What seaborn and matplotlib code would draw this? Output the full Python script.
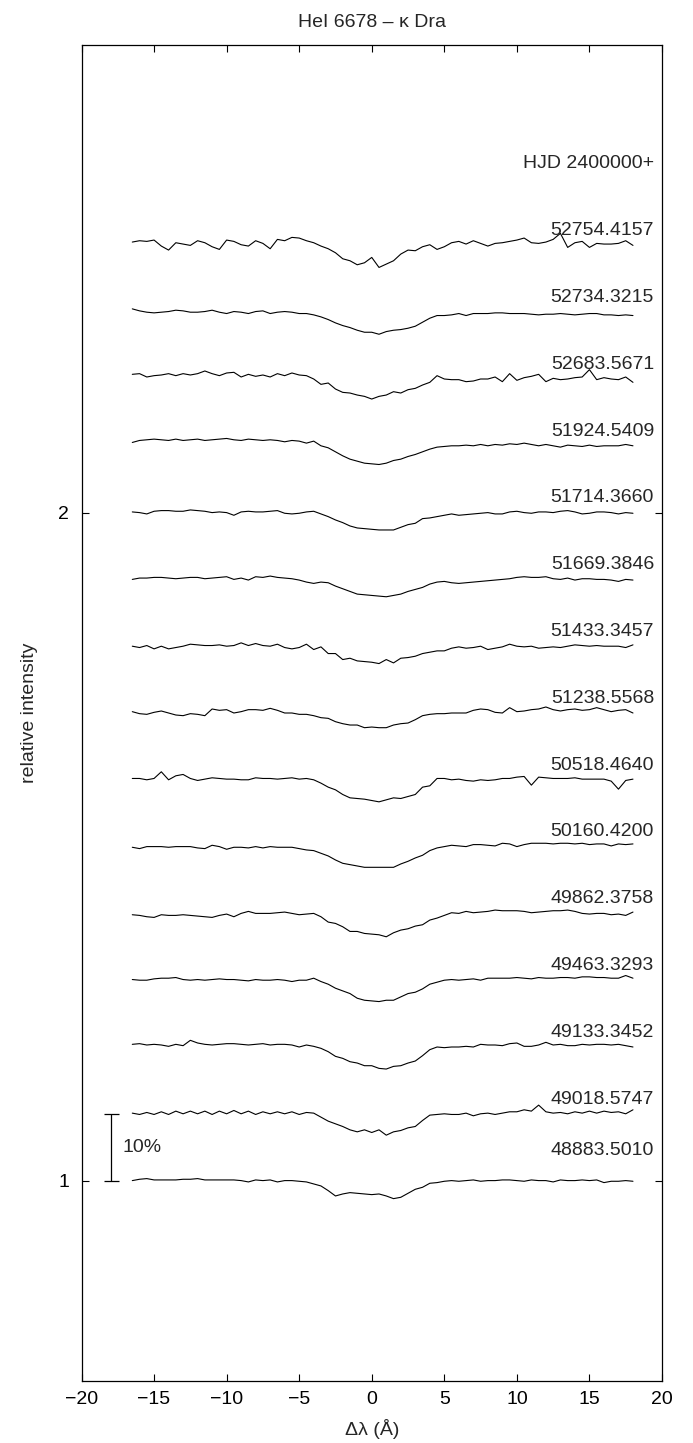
import numpy as np
import pandas as pd
import matplotlib
matplotlib.use("Agg")
import matplotlib.pyplot as plt
import seaborn as sns

# Wavelength offset from the HeI 6678 line centre, in Angstrom
wavelength = np.arange(-16.5, 18.01, 0.5)

# Observation epochs (HJD - 2400000), bottom to top, and their vertical offsets
hjd_labels = ["48883.5010", "49018.5747", "49133.3452", "49463.3293", "49862.3758",
              "50160.4200", "50518.4640", "51238.5568", "51433.3457", "51669.3846",
              "51714.3660", "51924.5409", "52683.5671", "52734.3215", "52754.4157"]
offsets = [1.0, 1.1, 1.2, 1.3, 1.4, 1.5, 1.6, 1.7, 1.8, 1.9, 2.0, 2.1, 2.2, 2.3, 2.4]

# Normalised flux minus one, in units of 0.001 of the continuum
flux_48883 = [0, 2, 3, 1, 1, 1, 1, 2, 2, 3, 1, 1, 1, 1, 1, 0, -2, 1, 0, 1,
              -2, 0, 0, -1, -2, -5, -8, -15, -23, -20, -18, -19, -20, -21, -20, -23, -27, -25, -19, -13,
              -10, -4, -3, -1, 0, -1, 0, 1, -1, 0, 0, 1, 1, 0, -1, 1, 0, 0, -2, 1,
              0, 0, 1, 0, 1, -3, -1, -1, 0, -1]
flux_49018 = [1, -1, 2, -1, 3, -1, 4, 0, 4, 0, 4, -1, 4, 0, 5, 0, 4, -1, 3, 0,
              3, 0, 3, -1, 2, 1, -5, -11, -15, -19, -24, -27, -24, -28, -24, -32, -27, -25, -21, -19,
              -10, -2, -1, 0, -1, -1, 1, -3, 0, 1, -1, 1, 3, 3, 6, 4, 13, 3, 1, 2,
              0, 3, 1, 4, 1, 4, 2, 3, 0, 6]
flux_49133 = [4, 5, 3, 4, 3, 1, 4, 2, 10, 6, 4, 3, 4, 5, 5, 4, 3, 4, 5, 3,
              4, 4, 3, 0, 3, 1, -2, -7, -14, -17, -22, -24, -28, -28, -32, -33, -29, -28, -24, -21,
              -13, -4, 0, -1, 0, 0, 1, 0, 4, 3, 3, 2, 5, 6, 1, 1, 3, 7, 3, 4,
              2, 2, 4, 3, 4, 4, 3, 4, 2, 0]
flux_49463 = [1, 0, 0, 2, 3, 3, 4, 1, 0, 1, 0, 1, 2, 1, 1, 0, -1, 1, 0, 0,
              1, 0, -2, 0, 0, 3, -2, -6, -12, -16, -20, -27, -30, -31, -32, -30, -30, -25, -20, -18,
              -13, -6, -3, 0, 1, 0, 1, 2, 0, 3, 3, 3, 3, 4, 3, 2, 4, 3, 3, 4,
              4, 3, 5, 5, 4, 4, 3, 3, 7, 3]
flux_49862 = [-2, -3, -5, -6, -2, -3, -3, -2, -3, -4, -5, -6, -3, -1, -5, 0, 3, 0, 0, 0,
              1, 2, 0, -2, -1, 0, -5, -13, -15, -20, -27, -27, -30, -31, -32, -35, -29, -25, -23, -19,
              -17, -10, -7, -3, 1, 0, 3, 1, 2, 3, 5, 4, 4, 4, 3, 1, 2, 3, 4, 4,
              5, 3, 0, -1, 0, 0, -2, -1, -3, 2]
flux_50160 = [-1, -3, 0, 0, 0, -1, 0, 0, 0, -2, -3, 2, 0, -4, -1, -1, -2, 0, -2, 0,
              -1, -1, -1, -3, -5, -6, -10, -14, -20, -25, -27, -29, -31, -31, -31, -31, -31, -26, -22, -17,
              -13, -6, -2, 0, 2, 1, 0, 3, 3, 2, 1, 5, 4, 0, 3, 5, 5, 5, 4, 5,
              5, 4, 5, 3, 4, 4, 1, 4, 3, 4]
flux_50518 = [2, 2, 0, 2, 12, 0, 6, 8, 2, -1, 1, 3, 2, 1, 1, 0, 0, 3, 2, 2,
              1, 2, 3, 1, 2, 0, -5, -11, -15, -22, -27, -28, -29, -31, -33, -30, -27, -28, -25, -22,
              -11, -9, 2, 2, 0, 1, -1, -2, 0, -1, 0, 2, 2, 4, 5, -8, 4, 3, 2, 2,
              2, 3, 1, 1, 1, 1, -2, -14, -1, 1]
flux_51238 = [2, -1, -2, 1, 3, 0, -3, -4, -1, -2, -4, 6, 4, 5, 0, 2, 5, 5, 4, 7,
              4, 0, 0, -2, -2, -4, -7, -8, -13, -16, -18, -18, -22, -21, -22, -22, -18, -16, -15, -10,
              -4, -2, -1, -1, 0, 0, 0, 4, 6, 5, 1, 0, 8, 2, 3, 5, 6, 9, 5, 3,
              5, 6, 4, 5, 8, 5, 2, 4, 5, 0]
flux_51433 = [0, -2, 1, -4, 0, -4, -2, 0, 3, 2, 1, 1, 2, 0, 1, 5, 1, 4, 1, 0,
              3, -2, -4, -2, 3, -5, -1, -11, -11, -20, -18, -22, -23, -24, -26, -20, -25, -18, -17, -15,
              -11, -9, -7, -7, -3, -1, -3, -2, 0, -5, -3, -1, 3, 0, -1, 0, -3, -2, -1, -2,
              0, 2, 1, 0, 1, 0, 0, 0, -2, 2]
flux_51669 = [0, 2, 2, 3, 3, 2, 1, 2, 3, 3, 1, 2, 3, 4, 0, 2, -1, 4, 3, 5,
              3, 2, 1, -1, -4, -6, -4, -5, -10, -14, -18, -22, -23, -24, -25, -26, -24, -22, -18, -15,
              -12, -7, -4, -3, -5, -6, -5, -4, -3, -2, -1, 0, 1, 3, 4, 3, 3, 4, 1, 0,
              2, -1, 1, 1, 0, 0, -1, -3, 0, -1]
flux_51714 = [1, 0, -2, 2, 3, 3, 2, 2, 4, 3, 2, 0, 1, 0, -4, 1, 2, 1, 1, 2,
              3, -1, -2, -1, 1, 2, -2, -6, -11, -15, -20, -23, -24, -25, -26, -26, -26, -22, -18, -16,
              -9, -8, -6, -4, -2, -4, -3, -2, -1, 0, -2, -2, 1, 2, 0, -1, 1, 1, 0, 2,
              3, 1, -2, -1, 1, 1, 0, -2, 0, -1]
flux_51924 = [5, 8, 9, 10, 9, 8, 10, 8, 9, 10, 8, 9, 10, 11, 9, 8, 10, 9, 8, 9,
              8, 6, 8, 7, 4, 7, 0, -3, -9, -15, -20, -23, -26, -27, -28, -26, -22, -20, -16, -13,
              -9, -5, -2, -1, 0, 0, 1, 0, 2, 0, 2, 1, 3, 2, 4, 2, 0, 2, 0, -2,
              1, 0, -1, 1, -1, 0, 0, 0, 2, 0]
flux_52683 = [7, 8, 3, 5, 6, 8, 5, 8, 6, 8, 12, 8, 5, 9, 10, 3, 7, 4, 6, 3,
              8, 5, 9, 6, 5, 0, -8, -6, -15, -20, -21, -24, -26, -30, -26, -24, -19, -21, -16, -14,
              -9, -5, 5, 0, -1, -1, -4, -3, 0, 0, 3, -4, 8, -2, 2, 4, 7, -4, 1, -1,
              0, 2, 3, 14, -1, 2, 0, -1, 3, -5]
flux_52734 = [5, 2, 0, -1, 0, 1, 3, 2, 0, 0, 1, 3, 0, -2, 1, 0, -2, 1, 2, -2,
              0, 1, 0, -2, -2, -4, -7, -11, -16, -20, -23, -27, -30, -30, -33, -29, -27, -26, -24, -21,
              -15, -9, -5, -5, -4, -2, -5, -2, -2, -2, -1, -1, -2, -2, -2, -3, -4, -3, -3, -2,
              -3, -4, -3, -2, -2, -4, -4, -5, -4, -5]
flux_52754 = [5, 7, 6, 8, -1, -7, 4, 2, 0, 7, 4, -2, -6, 8, 6, 1, -1, 7, 3, -5,
              9, 7, 12, 11, 7, 4, -1, -5, -11, -20, -23, -29, -26, -18, -33, -28, -23, -13, -7, -8,
              -2, 1, -6, -2, 4, 6, 2, 7, 3, -1, 3, 4, 6, 8, 11, 4, 3, 5, 9, 18,
              -3, 4, 6, -3, 3, 2, 2, 3, 7, 0]

spectra = [flux_48883, flux_49018, flux_49133, flux_49463, flux_49862,
           flux_50160, flux_50518, flux_51238, flux_51433, flux_51669,
           flux_51714, flux_51924, flux_52683, flux_52734, flux_52754]

# Long-form table: one row per sample, each spectrum shifted by its offset
frames = []
for hjd, off, dev in zip(hjd_labels, offsets, spectra):
    frames.append(pd.DataFrame({
        "dlambda": wavelength,
        "intensity": off + np.asarray(dev, dtype=float) / 1000.0,
        "hjd": hjd,
    }))
df = pd.concat(frames, ignore_index=True)

sns.set_style("ticks")
plt.rcParams["font.family"] = ["Liberation Sans", "DejaVu Sans"]
plt.rcParams["axes.linewidth"] = 0.9

W, H = 693, 1443
fig = plt.figure(figsize=(W / 100, H / 100), dpi=100)
left, right, top, bottom = 81.5, 662.0, 45.0, 1381.0
ax = fig.add_axes([left / W, 1 - bottom / H, (right - left) / W, (bottom - top) / H])

sns.lineplot(data=df, x="dlambda", y="intensity", units="hjd", estimator=None,
             sort=False, color="black", linewidth=0.8, legend=False, ax=ax)

ax.set_xlim(-20, 20)
ax.set_ylim(0.7, 2.7)
ax.set_xticks(np.arange(-20, 21, 5))
ax.set_yticks([1, 2])
ax.tick_params(direction="in", top=True, right=True, length=5, width=0.8,
               labelsize=14, colors="black")
ax.tick_params(axis="x", pad=7)
ax.tick_params(axis="y", pad=9)
for s in ax.spines.values():
    s.set_color("black")

ax.set_title("HeI 6678 \u2013 \u03ba Dra", fontsize=14, pad=13)
ax.set_xlabel("\u0394\u03bb (\u00c5)", fontsize=14, labelpad=8)
ax.set_ylabel("relative intensity", fontsize=14, ha="center", va="center",
              rotation_mode="default")
ax.yaxis.set_label_coords(-0.089, 0.5)

# Epoch labels at the right end of each spectrum
label_lift = [0.045] + [0.022] * (len(offsets) - 1)
for hjd, off, lift in zip(hjd_labels, offsets, label_lift):
    ax.text(19.45, off + lift, hjd, ha="right", va="center", fontsize=14)
ax.text(19.45, offsets[-1] + 0.1 + 0.022, "HJD 2400000+", ha="right", va="center", fontsize=14)

# 10% intensity scale bar
ax.errorbar([-18.0], [1.05], yerr=[0.05], color="black", capsize=5.4,
            elinewidth=0.9, capthick=0.9)
ax.text(-17.2, 1.05, "10%", ha="left", va="center", fontsize=14)

fig.savefig("out.png", dpi=100)
